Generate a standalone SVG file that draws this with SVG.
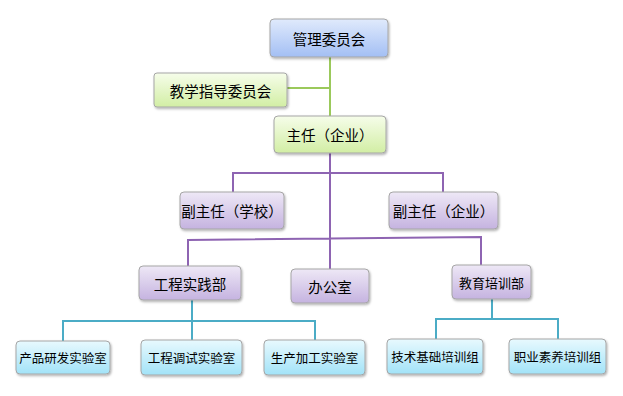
<svg xmlns="http://www.w3.org/2000/svg" width="623" height="396" viewBox="0 0 623 396">
<defs>
<linearGradient id="gBlue" x1="0" y1="0" x2="0" y2="1"><stop offset="0" stop-color="#e0eafc"/><stop offset="1" stop-color="#a3bff4"/></linearGradient>
<linearGradient id="gGreen" x1="0" y1="0" x2="0" y2="1"><stop offset="0" stop-color="#f6fdea"/><stop offset="1" stop-color="#d2eea4"/></linearGradient>
<linearGradient id="gPurple" x1="0" y1="0" x2="0" y2="1"><stop offset="0" stop-color="#eee8f6"/><stop offset="1" stop-color="#c5b3e0"/></linearGradient>
<linearGradient id="gCyan" x1="0" y1="0" x2="0" y2="1"><stop offset="0" stop-color="#e8f9fe"/><stop offset="1" stop-color="#a2e3f8"/></linearGradient>
<filter id="sh" x="-10%" y="-20%" width="130%" height="150%"><feDropShadow dx="1" dy="1.5" stdDeviation="1" flood-color="#000" flood-opacity="0.3"/></filter>
</defs>
<style>
.box{stroke:#a6a6a6;stroke-width:1;filter:url(#sh)}
.t{font-family:"Noto Sans CJK SC","Microsoft YaHei",sans-serif;fill:#000;text-anchor:middle;dominant-baseline:central}
.l{font-size:14.5px}
.s{font-size:12.5px}
.cg{stroke:#9bc95b;stroke-width:2;fill:none}
.cp{stroke:#8e64b2;stroke-width:2;fill:none}
.ct{stroke:#4bacc6;stroke-width:2;fill:none}
</style>
<g id="connectors">
<path class="cg" d="M330 57 V116 M287 88 H330"/>
<path class="cp" d="M330 153 V269 M233 192 V173 H443 V192 M188 266 V240 L481 237 V265"/>
<path class="ct" d="M192 300 V321 M63 341 V321 H315 V340 M192 321 V340 M492 299 V319 M436 339 V319 H558 V339"/>
</g>
<g id="n1"><rect class="box" x="270" y="19" width="118" height="38" rx="4" fill="url(#gBlue)"/><text class="t l" x="329" y="38">管理委员会</text></g>
<g id="n2"><rect class="box" x="154" y="73" width="133" height="34" rx="3" fill="url(#gGreen)"/><text class="t l" x="220.5" y="90">教学指导委员会</text></g>
<g id="n3"><rect class="box" x="274" y="116" width="112" height="37" rx="4" fill="url(#gGreen)"/><text class="t l" x="330" y="134.5">主任（企业）</text></g>
<g id="n4"><rect class="box" x="180" y="192" width="104" height="37" rx="4" fill="url(#gPurple)"/><text class="t l" x="232" y="210.5">副主任（学校）</text></g>
<g id="n5"><rect class="box" x="389" y="192" width="109" height="37" rx="4" fill="url(#gPurple)"/><text class="t l" x="443.5" y="210.5">副主任（企业）</text></g>
<g id="n6"><rect class="box" x="139" y="266" width="102" height="34" rx="4" fill="url(#gPurple)"/><text class="t l" x="190" y="283">工程实践部</text></g>
<g id="n7"><rect class="box" x="291" y="269" width="78" height="34" rx="4" fill="url(#gPurple)"/><text class="t l" x="330" y="286">办公室</text></g>
<g id="n8"><rect class="box" x="452" y="265" width="79" height="34" rx="4" fill="url(#gPurple)"/><text class="t" style="font-size:13px" x="491.5" y="282">教育培训部</text></g>
<g id="n9"><rect class="box" x="16" y="341" width="94" height="33" rx="4" fill="url(#gCyan)"/><text class="t s" x="63" y="357.5">产品研发实验室</text></g>
<g id="n10"><rect class="box" x="141" y="340" width="101" height="35" rx="4" fill="url(#gCyan)"/><text class="t s" x="191.5" y="357.5">工程调试实验室</text></g>
<g id="n11"><rect class="box" x="264" y="340" width="101" height="35" rx="4" fill="url(#gCyan)"/><text class="t s" x="314.5" y="357.5">生产加工实验室</text></g>
<g id="n12"><rect class="box" x="387" y="339" width="96" height="35" rx="4" fill="url(#gCyan)"/><text class="t s" x="435" y="356.5">技术基础培训组</text></g>
<g id="n13"><rect class="box" x="509" y="339" width="97" height="35" rx="4" fill="url(#gCyan)"/><text class="t s" x="557.5" y="356.5">职业素养培训组</text></g>
</svg>
